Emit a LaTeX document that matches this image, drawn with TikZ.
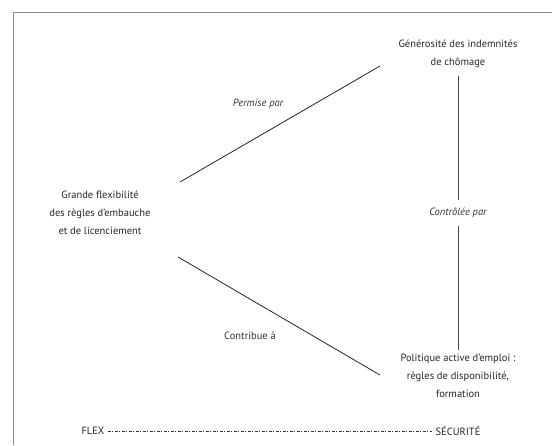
\documentclass[tikz,border=0pt]{standalone}
\usepackage{fontspec}
\setmainfont{PT Sans}
\begin{document}
\begin{tikzpicture}[x=1pt,y=-1pt,
  txt/.style={font=\fontsize{10.5}{18}\selectfont, text=black!85, align=center, inner sep=0pt},
  lbl/.style={font=\fontsize{10.5}{13}\selectfont\itshape, text=black!80, inner sep=0pt},
  link/.style={draw=black!85, line width=0.8pt},
  vlink/.style={draw=black!70, line width=0.6pt}]
\useasboundingbox (0,0) rectangle (552,445);
\draw[black!45, line width=1pt] (13,445) -- (13,12) -- (552,12);
\node[txt] (G) at (100,213) {Grande flexibilité\\des règles d'embauche\\et de licenciement};
\node[txt] (Gen) at (458,54) {Générosité des indemnités\\de chômage};
\node[txt] (Pol) at (458,376) {Politique active d'emploi :\\règles de disponibilité,\\formation};
\node[lbl] (ctrl) at (458,213) {Contrôlée par};
\node[lbl] (perm) at (258,104) {Permise par};
\node[lbl, font=\fontsize{10.5}{13}\selectfont] (contr) at (250,336) {Contribue à};
\node[txt] (flex) at (93,431) {FLEX};
\node[txt] (secu) at (458,431) {SÉCURITÉ};
\coordinate (g1) at (180,182);
\coordinate (g2) at (178,257);
\coordinate (e1) at (380,66);
\coordinate (e2) at (380,375);
\draw[link] (g1) -- (e1);
\draw[link] (g2) -- (e2);
\draw[vlink] (Gen.south) ++(0,-0) coordinate (v0);
\draw[vlink] ([yshift=-8pt]Gen.south) -- ([yshift=8pt]ctrl.north);
\draw[vlink] ([yshift=-8pt]ctrl.south) -- ([yshift=4pt]Pol.north);
\draw[black!80, line width=0.7pt, dash pattern=on 3pt off 1.5pt on 1pt off 1.5pt] ([xshift=3pt]flex.east) -- ([xshift=-3pt]secu.west);
\end{tikzpicture}
\end{document}
